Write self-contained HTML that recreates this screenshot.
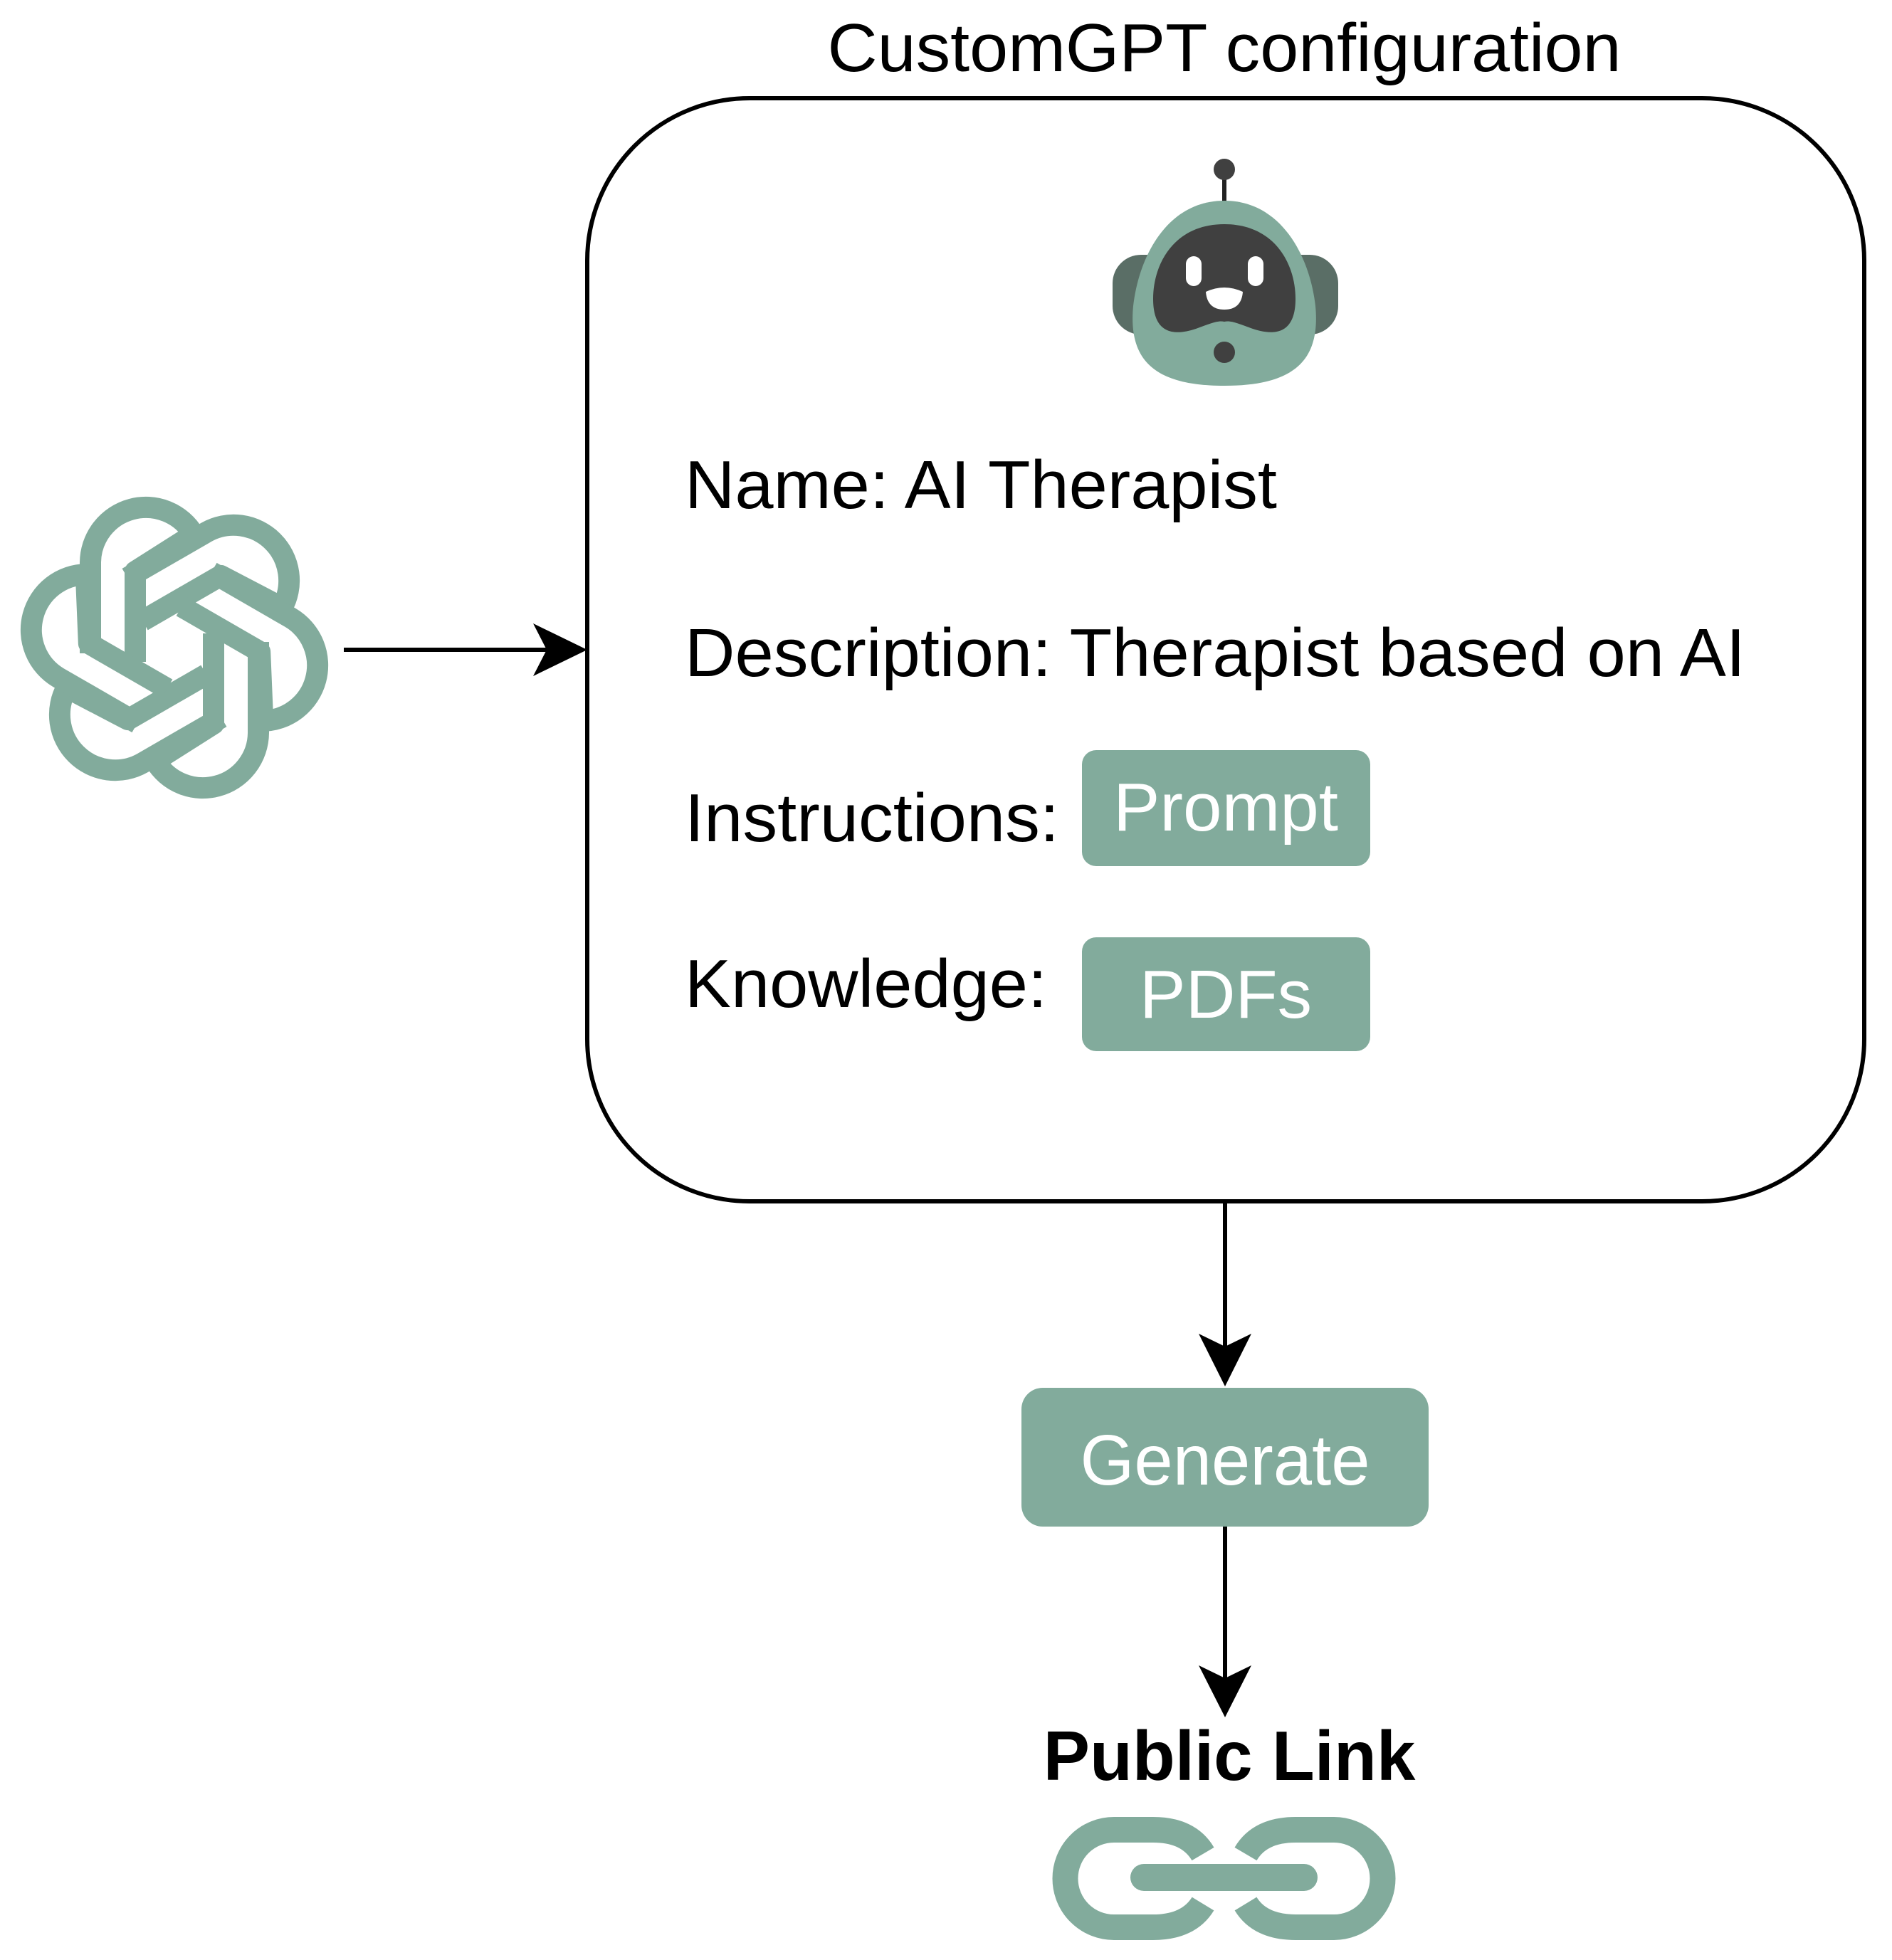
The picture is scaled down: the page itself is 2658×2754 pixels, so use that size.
<!DOCTYPE html>
<html><head><meta charset="utf-8"><style>
html,body{margin:0;padding:0;background:#fff;}
svg{display:block;}
text{font-family:"Liberation Sans",Arial,sans-serif;}
</style></head><body>
<svg width="2658" height="2754" viewBox="0 0 2658 2754" xmlns="http://www.w3.org/2000/svg">
<rect width="2658" height="2754" fill="#fff"/>
<text x="1720" y="100" font-size="96" text-anchor="middle" fill="#000" textLength="1115" lengthAdjust="spacingAndGlyphs">CustomGPT configuration</text>
<rect x="825" y="138" width="1794" height="1550" rx="228" ry="228" fill="#fff" stroke="#000" stroke-width="6"/>

<!-- robot -->
<line x1="1720" y1="238" x2="1720" y2="290" stroke="#222" stroke-width="6"/>
<circle cx="1720" cy="238" r="15" fill="#404040"/>
<rect x="1563" y="358" width="317" height="112" rx="40" fill="#5a6e66"/>
<path d="M1720,282 C1640,282 1600,360 1592,430 C1585,505 1620,542 1720,542 C1820,542 1855,505 1848,430 C1840,360 1800,282 1720,282 Z" fill="#82ab9c"/>
<path d="M1720,315 C1650,315 1620,370 1620,420 C1620,470 1650,472 1680,462 C1700,455 1710,450 1720,452 C1730,450 1740,455 1760,462 C1790,472 1820,470 1820,420 C1820,370 1790,315 1720,315Z" fill="#404040"/>
<rect x="1666" y="360" width="22" height="42" rx="11" fill="#fff"/>
<rect x="1753" y="360" width="22" height="42" rx="11" fill="#fff"/>
<path d="M1694,410 Q1720,398 1746,410 Q1744,435 1720,435 Q1696,435 1694,410Z" fill="#fff"/>
<circle cx="1720" cy="495" r="15" fill="#404040"/>

<text x="962" y="714" font-size="96" fill="#000" textLength="832" lengthAdjust="spacingAndGlyphs">Name: AI Therapist</text>
<text x="962" y="950" font-size="96" fill="#000" textLength="1490" lengthAdjust="spacingAndGlyphs">Description: Therapist based on AI</text>
<text x="962" y="1182" font-size="96" fill="#000" textLength="526" lengthAdjust="spacingAndGlyphs">Instructions:</text>
<text x="962" y="1415" font-size="96" fill="#000" textLength="509" lengthAdjust="spacingAndGlyphs">Knowledge:</text>

<rect x="1520" y="1054" width="405" height="163" rx="20" fill="#82ab9c"/>
<text x="1722" y="1167" font-size="96" fill="#fff" text-anchor="middle" textLength="316" lengthAdjust="spacingAndGlyphs">Prompt</text>
<rect x="1520" y="1317" width="405" height="160" rx="20" fill="#82ab9c"/>
<text x="1722" y="1430" font-size="96" fill="#fff" text-anchor="middle" textLength="242" lengthAdjust="spacingAndGlyphs">PDFs</text>

<!-- left arrow -->
<line x1="483" y1="913" x2="800" y2="913" stroke="#000" stroke-width="6"/>
<path d="M825,913 L749,876 L768,913 L749,950 Z" fill="#000"/>

<!-- openai logo -->
<g transform="translate(245,910)" fill="none" stroke="#82ab9c" stroke-width="30" stroke-linejoin="round">
<g id="petal"><path d="M-118,8 L-118,-120 A78,78 0 0 1 27,-159 L-55,-107 L-55,20"/></g>
<use href="#petal" transform="rotate(60)"/>
<use href="#petal" transform="rotate(120)"/>
<use href="#petal" transform="rotate(180)"/>
<use href="#petal" transform="rotate(240)"/>
<use href="#petal" transform="rotate(300)"/>
</g>

<!-- vertical arrows -->
<line x1="1721" y1="1688" x2="1721" y2="1900" stroke="#000" stroke-width="6"/>
<path d="M1721,1948 L1684,1874 L1721,1892 L1758,1874 Z" fill="#000"/>
<rect x="1435" y="1950" width="572" height="195" rx="30" fill="#82ab9c"/>
<text x="1721" y="2086" font-size="100" fill="#fff" text-anchor="middle" textLength="407" lengthAdjust="spacingAndGlyphs">Generate</text>
<line x1="1721" y1="2145" x2="1721" y2="2370" stroke="#000" stroke-width="6"/>
<path d="M1721,2413 L1684,2340 L1721,2358 L1758,2340 Z" fill="#000"/>

<text x="1727" y="2501" font-size="98" font-weight="bold" fill="#000" text-anchor="middle">Public Link</text>

<!-- chain -->
<g fill="none" stroke="#82ab9c" stroke-width="36">
<path d="M1690,2605 Q1670,2571 1620,2571 L1565,2571 A68,68 0 0 0 1565,2708 L1620,2708 Q1670,2708 1690,2675"/>
<path d="M1750,2605 Q1770,2571 1820,2571 L1874,2571 A68,68 0 0 1 1874,2708 L1820,2708 Q1770,2708 1750,2675"/>
</g>
<rect x="1588" y="2619" width="263" height="38" rx="19" fill="#82ab9c"/>
</svg>
</body></html>
